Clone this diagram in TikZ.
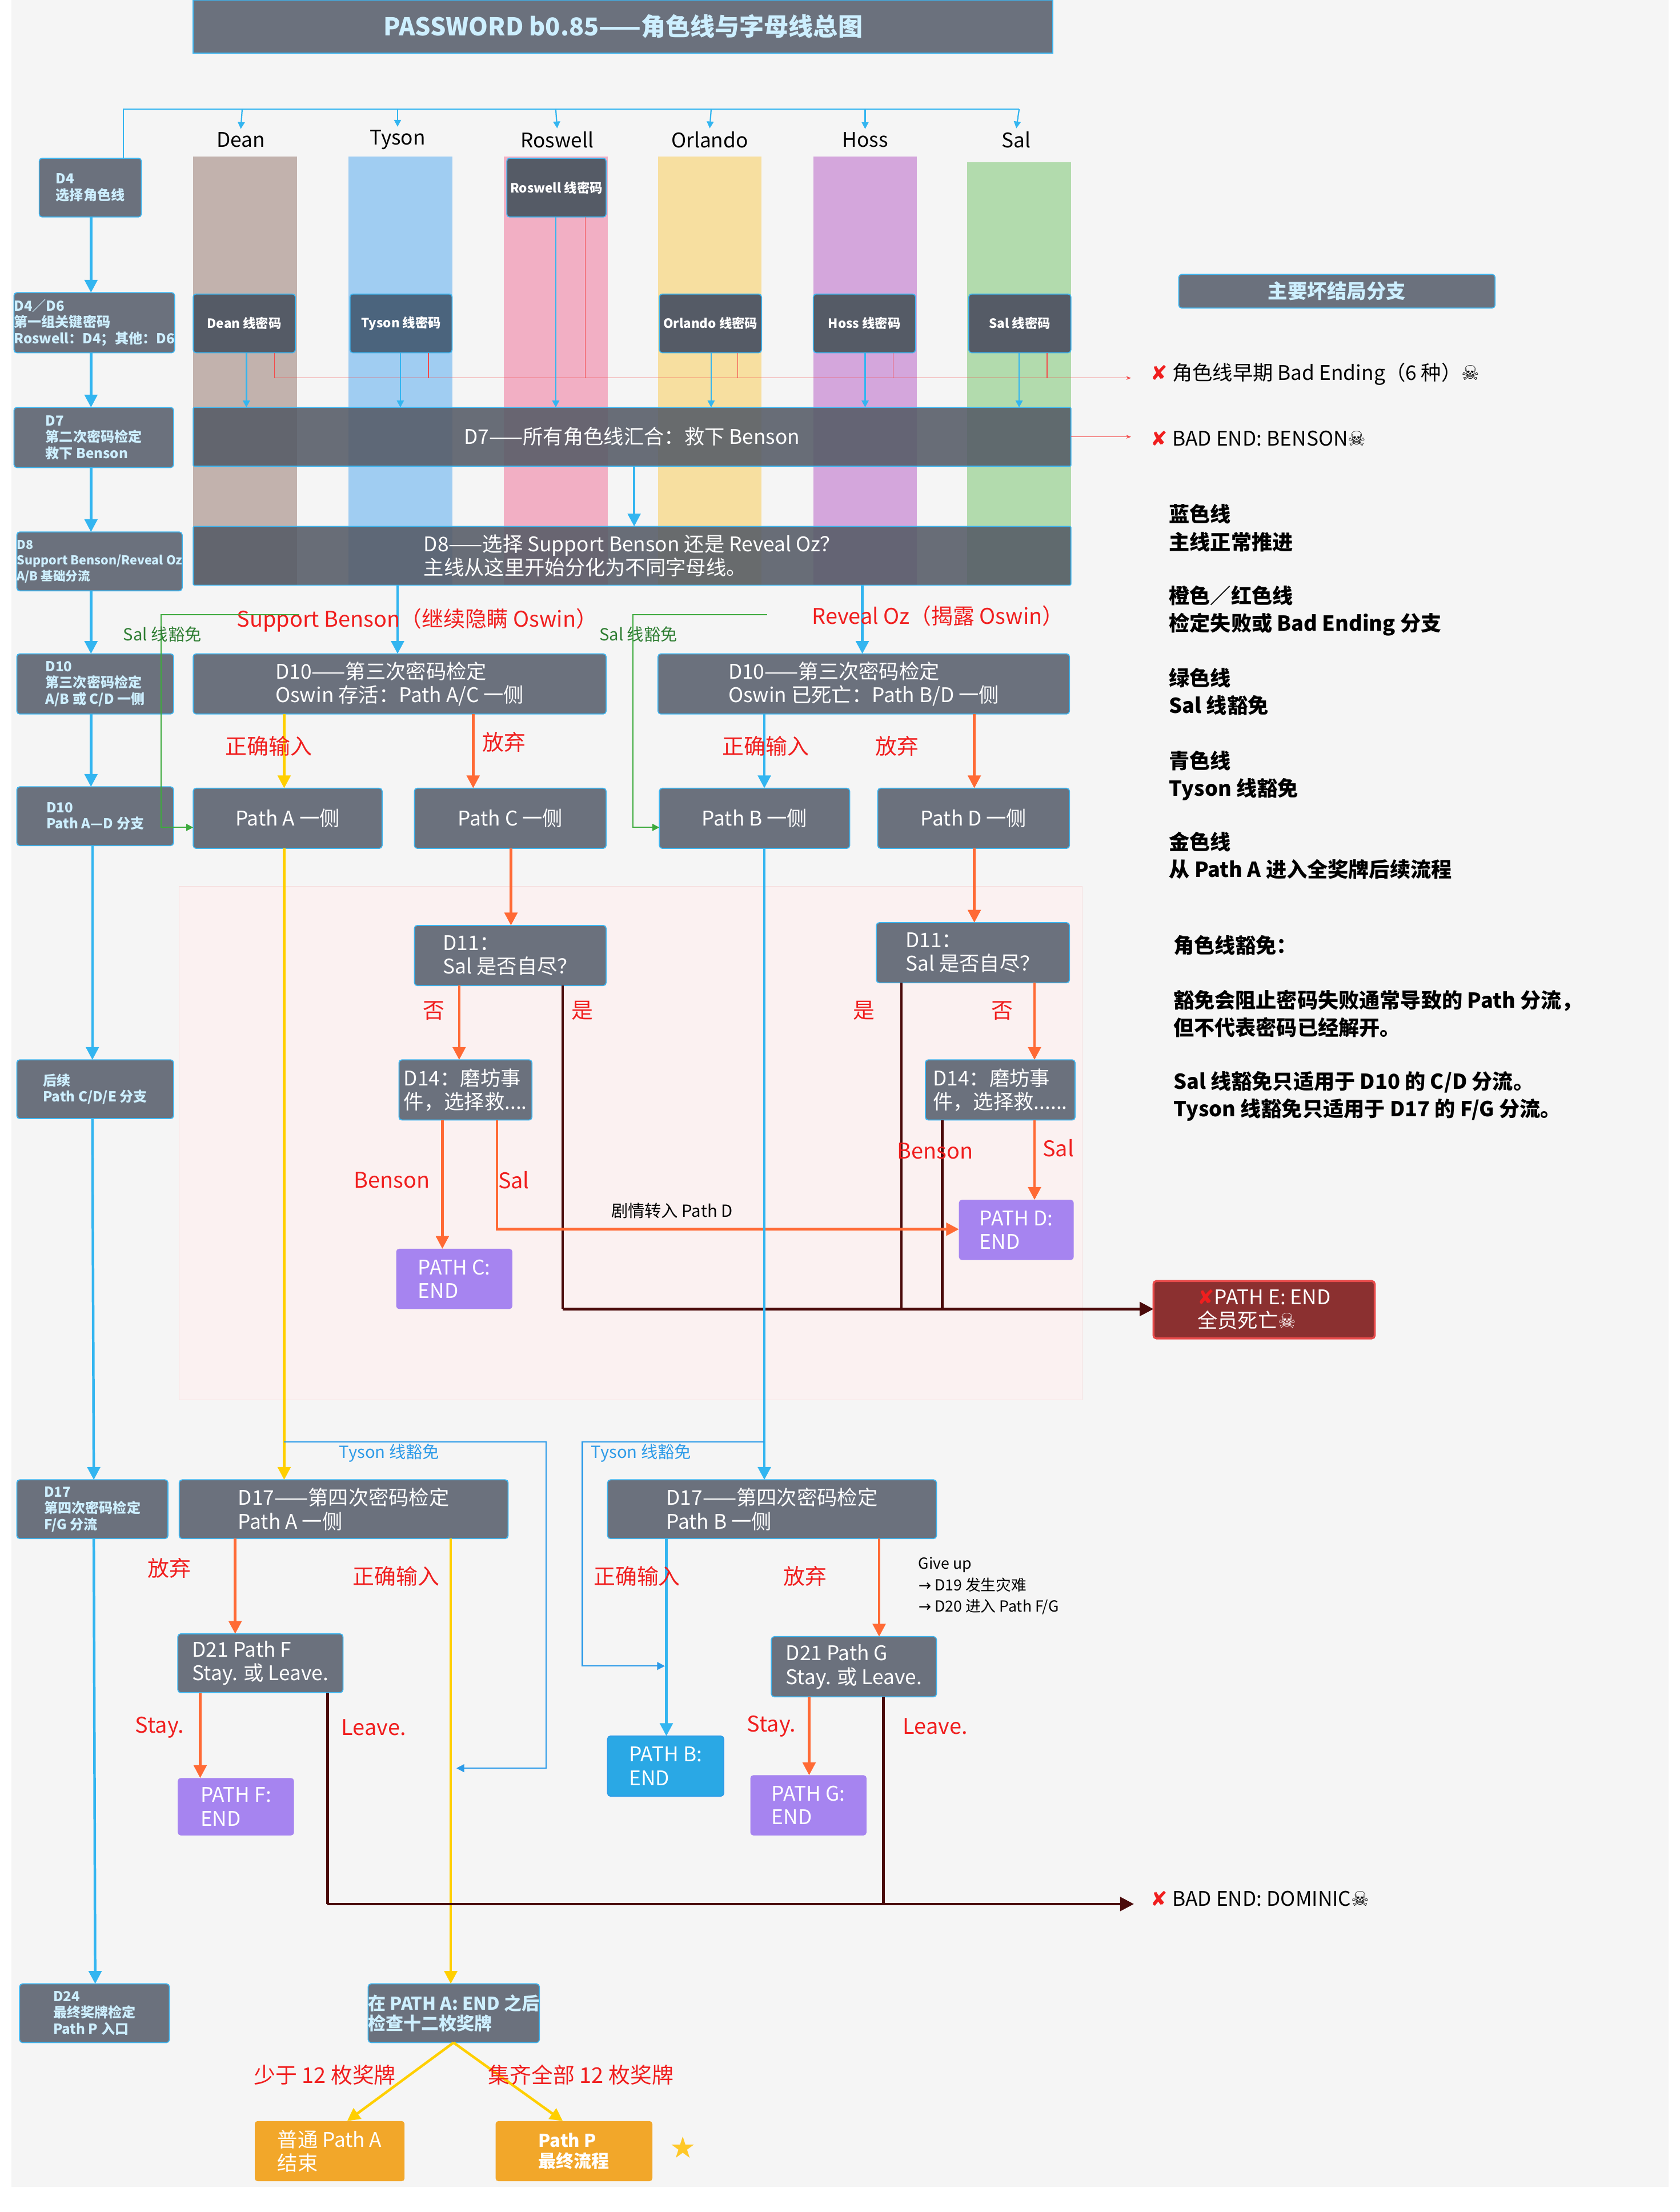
\documentclass[tikz,border=0pt]{standalone}
\usepackage{fontspec}
\setmainfont{Noto Sans CJK SC}
\newfontfamily\symf{DejaVu Sans}
\usetikzlibrary{arrows.meta,calc}
\definecolor{bgc}{HTML}{F5F5F5}
\definecolor{boxg}{HTML}{6B717D}
\definecolor{darkb}{HTML}{555B66}
\definecolor{cyanb}{HTML}{3DB5F0}
\definecolor{lcyan}{HTML}{CDEFFF}
\definecolor{blu}{HTML}{33B5F0}
\definecolor{tyb}{HTML}{2D9BE8}
\definecolor{redt}{HTML}{F01E1E}
\definecolor{orl}{HTML}{FF6A35}
\definecolor{yel}{HTML}{FFCF00}
\definecolor{grl}{HTML}{3DAA3D}
\definecolor{grt}{HTML}{2E7D32}
\definecolor{dkl}{HTML}{4A0A0A}
\definecolor{purp}{HTML}{A684F0}
\definecolor{bend}{HTML}{2AA8E5}
\definecolor{obox}{HTML}{F2A72A}
\definecolor{pinkbg}{HTML}{FBF1F1}
\newcommand\fa{\fontsize{20.5}{24}\selectfont}
\newcommand\fb{\fontsize{14}{16.5}\selectfont\bfseries}
\newcommand\fc{\fontsize{13}{15}\selectfont\bfseries}
\newcommand\fl{\fontsize{21}{28}\selectfont\bfseries}
\newcommand\fr{\fontsize{22}{26}\selectfont}
\newcommand\xx{{\symf\textcolor{redt}{✘}}}
\newcommand\skl{{\symf ☠}}
\newcommand\bx[7]{\node[#1,anchor=north west,minimum width={(#5-#3)*0.05cm},minimum height={(#6-#4)*0.05cm}] (#2) at (#3,#4) {#7};}
\begin{document}
\begin{tikzpicture}[x=0.05cm,y=-0.05cm,
  box/.style={draw=cyanb,line width=1pt,rounded corners=3pt,fill=boxg,text=white,inner sep=0pt,outer sep=0pt,font=\fa,align=left},
  lbox/.style={box,text=lcyan,font=\fb},
  cbox/.style={box,fill=darkb,font=\fc,align=center},
  endb/.style={box,draw=none,font=\fa},
  lab/.style={inner sep=1pt,font=\fr,text=redt},
  leg/.style={anchor=north west,align=left,font=\fl,inner sep=0pt},
  barr/.style={draw=blu,line width=2.6pt,-{Triangle[length=13pt,width=13pt]}},
  tarr/.style={draw=blu,line width=1.3pt,-{Triangle[length=7pt,width=7pt]}},
  oarr/.style={draw=orl,line width=2.6pt,-{Triangle[length=13pt,width=13pt]}},
  yarr/.style={draw=yel,line width=2.6pt,-{Triangle[length=13pt,width=13pt]}},
  darr/.style={draw=dkl,line width=2.6pt,-{Triangle[length=14pt,width=14pt]}},
  dline/.style={draw=dkl,line width=2.6pt},
  garr/.style={draw=grl,line width=1.3pt,-{Triangle[length=7pt,width=7pt]}},
  tyarr/.style={draw=tyb,line width=1.4pt,-{Triangle[length=8pt,width=8pt]}},
  rthin/.style={draw=redt!80,line width=0.8pt,-{Stealth[length=5pt]}},
]
\useasboundingbox (0,0) rectangle (1200,1580);
\fill[white] (0,0) rectangle (1200,1580);
\fill[bgc] (8,0) rectangle (1192,1562);
% title
\bx{box,fill=boxg,rounded corners=0pt,text=lcyan,font=\fontsize{25}{28}\selectfont\bfseries,align=center}{title}{138}{0}{752}{38}{PASSWORD b0.85——角色线与字母线总图}
% columns
\fill[fill={rgb,255:red,194;green,178;blue,173}] (138,112) rectangle (212,418);
\fill[fill={rgb,255:red,160;green,205;blue,242}] (249,112) rectangle (323,418);
\fill[fill={rgb,255:red,242;green,175;blue,196}] (360,112) rectangle (434,418);
\fill[fill={rgb,255:red,247;green,223;blue,160}] (470,112) rectangle (544,418);
\fill[fill={rgb,255:red,212;green,166;blue,220}] (581,112) rectangle (655,418);
\fill[fill={rgb,255:red,178;green,219;blue,173}] (691,116) rectangle (765,418);
% pink region
\draw[fill=pinkbg,draw={rgb,255:red,245;green,220;blue,220}] (128,633) rectangle (773,1000);
% names
\foreach \n/\x in {Dean/172,Tyson/284,Roswell/398,Orlando/507,Hoss/618,Sal/726}
  \node[font=\fa] (n\n) at (\x,100) {\n};
% left column
\bx{lbox}{L4}{28}{113}{101}{155}{D4\\选择角色线}
\bx{lbox}{L46}{10}{209}{124}{252}{D4／D6\\第一组关键密码\\Roswell：D4；其他：D6}
\bx{lbox}{L7}{10}{291}{124}{334}{D7\\第二次密码检定\\救下 Benson}
\bx{lbox,font=\fontsize{12.5}{16}\selectfont\bfseries}{L8}{12}{380}{124}{422}{D8\\Support Benson/Reveal Oz\\A/B 基础分流}
\bx{lbox}{L10}{12}{467}{124}{510}{D10\\第三次密码检定\\A/B 或 C/D 一侧}
\bx{lbox}{L10b}{12}{562}{124}{604}{D10\\Path A—D 分支}
\bx{lbox}{Lh}{12}{757}{124}{799}{后续\\Path C/D/E 分支}
\bx{lbox}{L17}{12}{1057}{120}{1099}{D17\\第四次密码检定\\F/G 分流}
\bx{lbox}{L24}{14}{1417}{121}{1459}{D24\\最终奖牌检定\\Path P 入口}
\draw[barr] (L4.south -| 65,0) -- (L46.north -| 65,0);
\draw[barr] (L46.south -| 65,0) -- (L7.north -| 65,0);
\draw[barr] (L7.south -| 65,0) -- (L8.north -| 65,0);
\draw[barr] (L8.south -| 65,0) -- (L10.north -| 65,0);
\draw[barr] (L10.south -| 65,0) -- (L10b.north -| 65,0);
\draw[barr] (L10b.south -| 66,0) -- (Lh.north -| 66,0);
\draw[barr] (Lh.south -| 66,0) -- (L17.north -| 67,0);
\draw[barr] (L17.south -| 67,0) -- (L24.north -| 68,0);
% top distribution
\draw[draw=blu,line width=1.3pt] (L4.north -| 88,0) -- (88,78) -- (728,78);
\foreach \n/\x in {Dean/173,Tyson/284,Roswell/397,Orlando/508,Hoss/618,Sal/728}
  \draw[tarr] (\x,78) -- (n\n.north);
% line boxes
\bx{cbox}{rb}{362}{113}{433}{155}{Roswell 线密码}
\bx{cbox}{db}{138}{210}{211}{252}{Dean 线密码}
\bx{cbox,fill={rgb,255:red,75;green,100;blue,125}}{tb}{250}{210}{323}{252}{Tyson 线密码}
\bx{cbox}{ob}{471}{210}{544}{252}{Orlando 线密码}
\bx{cbox}{hb}{581}{210}{654}{252}{Hoss 线密码}
\bx{cbox}{sb}{692}{210}{765}{252}{Sal 线密码}
% D7 D8
\bx{box,fill=darkb,fill opacity=0.88,text opacity=1,rounded corners=1pt,align=center}{d7}{138}{291}{765}{333}{D7——所有角色线汇合：救下 Benson}
\bx{box,fill=darkb,fill opacity=0.88,text opacity=1,rounded corners=1pt}{d8}{138}{376}{765}{418}{D8——选择 Support Benson 还是 Reveal Oz？\\主线从这里开始分化为不同字母线。}
% red early bad line
\node[anchor=west,font=\fa,inner sep=0pt] (eb) at (822,267) {\xx\ 角色线早期 Bad Ending（6 种）\skl};
\node[anchor=west,font=\fa,inner sep=0pt] (bb) at (822,313) {\xx\ BAD END: BENSON\skl};
\draw[rthin] (db.south -| 196,0) |- (808,270);
\foreach \x/\b in {306/tb,527/ob,638/hb,748/sb} \draw[draw=redt!80,line width=0.8pt] (\b.south -| \x,0) -- (\x,270);
\draw[draw=redt!80,line width=0.8pt] (rb.south -| 418,0) -- (418,270);
\draw[rthin] (d7.east) -- (808,312);
\foreach \b/\x in {db/176,tb/286,ob/508,hb/618,sb/728}
  \draw[tarr,line width=1.6pt] (\b.south -| \x,0) -- (\x,291);
\draw[tarr,line width=1.6pt] (rb.south -| 397,0) -- (397,291);
\draw[barr] (d7.south -| 453,0) -- (d8.north -| 453,0);
% D10
\bx{box}{d10a}{138}{467}{433}{510}{D10——第三次密码检定\\Oswin 存活：Path A/C 一侧}
\bx{box}{d10b}{470}{467}{764}{510}{D10——第三次密码检定\\Oswin 已死亡：Path B/D 一侧}
\draw[barr] (d8.south -| 284,0) -- (d10a.north -| 284,0);
\draw[barr] (d8.south -| 616,0) -- (d10b.north -| 616,0);
\node[lab] (sbl) at (298,443) {Support Benson（继续隐瞒 Oswin）};
\node[lab] (rol) at (670,440) {Reveal Oz（揭露 Oswin）};
\bx{box}{pa}{138}{563}{273}{606}{Path A 一侧}
\bx{box}{pc}{296}{563}{433}{606}{Path C 一侧}
\bx{box}{pb}{471}{563}{607}{606}{Path B 一侧}
\bx{box}{pd}{627}{563}{764}{606}{Path D 一侧}
% green exemption
\draw[garr] (214,439) -- (115,439) -- (115,591) -- (pa.west |- 0,591);
\draw[garr] (548,439) -- (452,439) -- (452,591) -- (pb.west |- 0,591);
\node[font=\fontsize{17}{20}\selectfont,text=grt] (g1) at (116,453) {Sal 线豁免};
\node[font=\fontsize{17}{20}\selectfont,text=grt] (g2) at (456,453) {Sal 线豁免};
\draw[yarr] (d10a.south -| 203,0) -- (pa.north -| 203,0);
\draw[oarr] (d10a.south -| 338,0) -- (pc.north -| 338,0);
\draw[barr] (d10b.south -| 546,0) -- (pb.north -| 546,0);
\draw[oarr] (d10b.south -| 696,0) -- (pd.north -| 696,0);
\node[lab] (la1) at (192,533) {正确输入};
\node[lab] (la2) at (360,530) {放弃};
\node[lab] (la3) at (547,533) {正确输入};
\node[lab] (la4) at (641,533) {放弃};
% D11
\bx{box}{d11a}{296}{661}{433}{704}{D11：\\Sal 是否自尽？}
\bx{box}{d11b}{626}{659}{764}{702}{D11：\\Sal 是否自尽？}
\draw[oarr] (pc.south -| 365,0) -- (d11a.north -| 365,0);
\draw[oarr] (pd.south -| 696,0) -- (d11b.north -| 696,0);
\bx{box}{d14a}{285}{757}{380}{800}{D14：磨坊事\\件，选择救....}
\bx{box}{d14b}{661}{757}{768}{800}{D14：磨坊事\\件，选择救......}
\bx{endb,fill=purp}{pce}{283}{892}{366}{935}{PATH C:\\END}
\bx{endb,fill=purp}{pde}{685}{857}{767}{900}{PATH D:\\END}
\bx{box,fill={rgb,255:red,139;green,48;blue,48},draw={rgb,255:red,232;green,74;blue,74},line width=2pt}{pee}{824}{915}{982}{956}{\xx PATH E: END\\全员死亡\skl}
\draw[oarr] (d11a.south -| 328,0) -- (d14a.north -| 328,0);
\draw[dline] (d11a.south -| 402,0) -- (402,935);
\draw[darr] (402,935) -- (pee.west |- 0,935);
\draw[dline] (d11b.south -| 644,0) -- (644,935);
\draw[oarr] (d11b.south -| 739,0) -- (d14b.north -| 739,0);
\draw[dline] (d14b.south -| 673,0) -- (673,935);
\draw[oarr] (d14b.south -| 739,0) -- (pde.north -| 739,0);
\draw[oarr] (d14a.south -| 316,0) -- (pce.north -| 316,0);
\draw[oarr] (d14a.south -| 355,0) -- (355,878) -- (pde.west |- 0,878);
\node[lab] (n1) at (310,722) {否};
\node[lab] (n2) at (416,722) {是};
\node[lab] (n3) at (617,722) {是};
\node[lab] (n4) at (716,722) {否};
\node[lab] (n5) at (280,843) {Benson};
\node[lab] (n6) at (367,843) {Sal};
\node[lab] (n7) at (668,822) {Benson};
\node[lab] (n8) at (756,820) {Sal};
\node[font=\fontsize{17}{20}\selectfont] (n9) at (480,865) {剧情转入 Path D};
% D17
\bx{box}{d17a}{128}{1057}{363}{1099}{D17——第四次密码检定\\Path A 一侧}
\bx{box}{d17b}{434}{1057}{669}{1099}{D17——第四次密码检定\\Path B 一侧}
\draw[yarr] (pa.south -| 203,0) -- (d17a.north -| 203,0);
\draw[barr] (pb.south -| 546,0) -- (d17b.north -| 546,0);
\draw[tyarr] (203,1030) -- (390,1030) -- (390,1263) -- (326,1263);
\draw[tyarr] (546,1030) -- (416,1030) -- (416,1190) -- (475,1190);
\node[font=\fontsize{17}{20}\selectfont,text=tyb] (t1) at (278,1038) {Tyson 线豁免};
\node[font=\fontsize{17}{20}\selectfont,text=tyb] (t2) at (458,1038) {Tyson 线豁免};
\bx{box}{d21f}{127}{1167}{245}{1209}{D21 Path F\\Stay. 或 Leave.}
\bx{box}{d21g}{551}{1169}{669}{1212}{D21 Path G\\Stay. 或 Leave.}
\bx{endb,fill=purp}{pfe}{127}{1270}{210}{1311}{PATH F:\\END}
\bx{endb,fill=purp}{pge}{536}{1268}{619}{1311}{PATH G:\\END}
\bx{endb,fill=bend,draw=tyb,line width=1pt}{pbe}{434}{1240}{517}{1283}{PATH B:\\END}
\bx{box,text=lcyan,font=\fontsize{18}{20}\selectfont\bfseries}{chk}{263}{1417}{385}{1459}{在 PATH A: END 之后\\检查十二枚奖牌}
\draw[oarr] (d17a.south -| 168,0) -- (d21f.north -| 168,0);
\draw[yarr] (d17a.south -| 322,0) -- (chk.north -| 322,0);
\draw[oarr] (d21f.south -| 143,0) -- (pfe.north -| 143,0);
\draw[dline] (d21f.south -| 234,0) -- (234,1360);
\draw[darr] (234,1360) -- (810,1360);
\draw[barr] (d17b.south -| 476,0) -- (pbe.north -| 476,0);
\draw[oarr] (d17b.south -| 628,0) -- (d21g.north -| 628,0);
\draw[oarr] (d21g.south -| 578,0) -- (pge.north -| 578,0);
\draw[dline] (d21g.south -| 631,0) -- (631,1360);
\node[lab] (m1) at (121,1120) {放弃};
\node[lab] (m2) at (283,1126) {正确输入};
\node[lab] (m3) at (455,1126) {正确输入};
\node[lab] (m4) at (575,1126) {放弃};
\node[lab] (m5) at (114,1234) {Stay.};
\node[lab] (m6) at (267,1234) {Leave.};
\node[lab] (m7) at (551,1233) {Stay.};
\node[lab] (m8) at (668,1233) {Leave.};
\node[anchor=north west,align=left,font=\fontsize{15.5}{22}\selectfont,inner sep=0pt] (gu) at (656,1112) {Give up\\{\symf →} D19 发生灾难\\{\symf →} D20 进入 Path F/G};
\node[anchor=west,font=\fa,inner sep=0pt] (dom) at (822,1356) {\xx\ BAD END: DOMINIC\skl};
% final
\bx{endb,fill=obox}{fa}{182}{1515}{289}{1558}{普通 Path A\\结束}
\bx{endb,fill=obox,font=\fontsize{18}{21}\selectfont\bfseries}{fp}{354}{1515}{466}{1558}{Path P\\最终流程}
\draw[yarr] (chk.south -| 324,0) -- (fa.north -| 248,0);
\draw[yarr] (chk.south -| 324,0) -- (fp.north -| 402,0);
\node[lab] (q1) at (232,1482) {少于 12 枚奖牌};
\node[lab] (q2) at (415,1482) {集齐全部 12 枚奖牌};
\node[font=\fontsize{30}{30}\selectfont\symf,text={rgb,255:red,255;green,200;blue,40}] (star) at (488,1534) {★};
% legend
\bx{box,text=lcyan,font=\fontsize{20}{22}\selectfont\bfseries,align=center}{lg}{842}{196}{1068}{220}{主要坏结局分支}
\node[leg] (g1l) at (835,360) {蓝色线\\主线正常推进};
\node[leg] (g2l) at (835,418) {橙色／红色线\\检定失败或 Bad Ending 分支};
\node[leg] (g3l) at (835,477) {绿色线\\Sal 线豁免};
\node[leg] (g4l) at (835,536) {青色线\\Tyson 线豁免};
\node[leg] (g5l) at (835,594) {金色线\\从 Path A 进入全奖牌后续流程};
\node[leg] (g6l) at (838,668) {角色线豁免：};
\node[leg] (g7l) at (838,707) {豁免会阻止密码失败通常导致的 Path 分流，\\但不代表密码已经解开。};
\node[leg] (g8l) at (838,765) {Sal 线豁免只适用于 D10 的 C/D 分流。\\Tyson 线豁免只适用于 D17 的 F/G 分流。};
\end{tikzpicture}
\end{document}
